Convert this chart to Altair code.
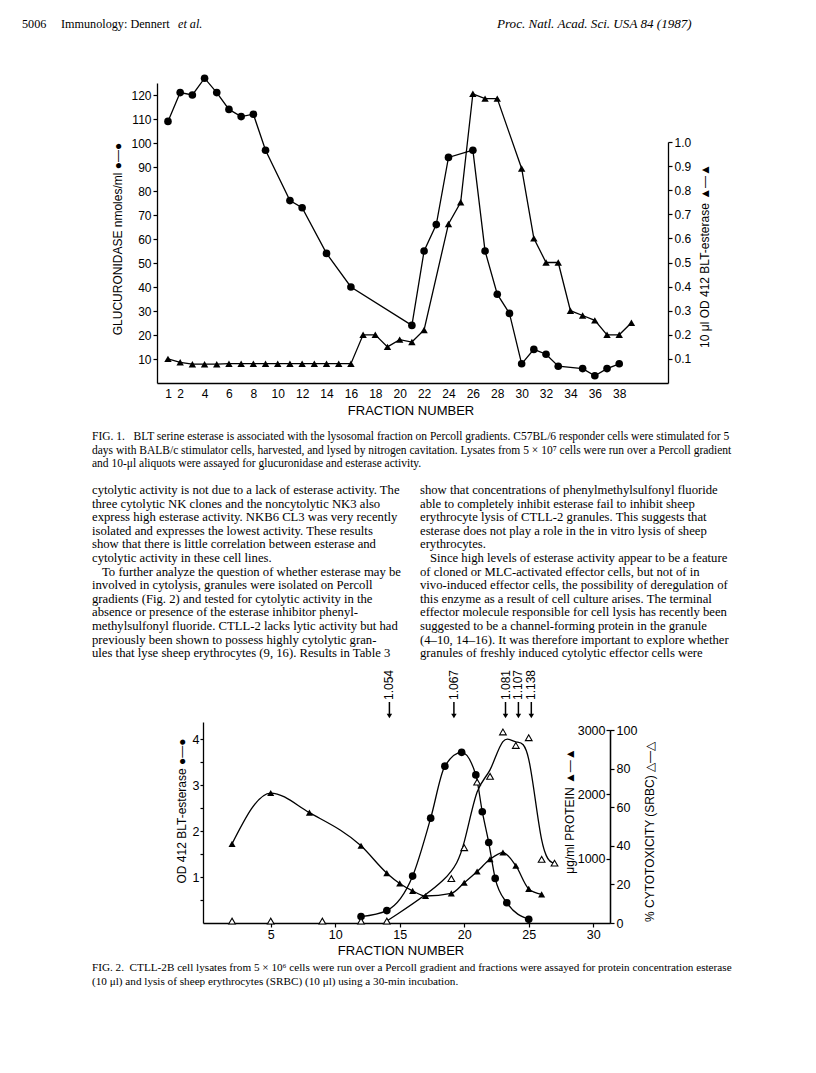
import altair as alt
import pandas as pd

# ---------------- data ----------------
# Figure 1: glucuronidase (filled circles, left axis) and esterase (filled triangles, right axis)
fig1_glu_frac = [1, 2, 3, 4, 5, 6, 7, 8, 9, 11, 12, 14, 16, 21, 22, 23, 24, 26, 27, 28, 29,
                 30, 31, 32, 33, 35, 36, 37, 38]
fig1_glu_val = [109, 121, 120, 127, 121, 114, 111, 112, 97, 76, 73, 54, 40, 24, 55, 66, 94,
                97, 55, 37, 29, 8, 14, 12, 7, 6, 3, 6, 8]
fig1_est_frac = [1, 2, 3, 4, 5, 6, 7, 8, 9, 10, 11, 12, 13, 14, 15, 16, 17, 18, 19, 20, 21, 22,
                 24, 25, 26, 27, 28, 30, 31, 32, 33, 34, 35, 36, 37, 38, 39]
fig1_est_val = [0.10, 0.086, 0.078, 0.078, 0.078, 0.08, 0.08, 0.08, 0.08, 0.08, 0.08, 0.08,
                0.08, 0.08, 0.08, 0.08, 0.20, 0.20, 0.15, 0.18, 0.17, 0.22,
                0.66, 0.75, 1.20, 1.18, 1.18, 0.89, 0.60, 0.50, 0.50, 0.30, 0.28, 0.26,
                0.20, 0.20, 0.25]
fig1_x_ticks = [1, 2, 4, 6, 8, 10, 12, 14, 16, 18, 20, 22, 24, 26, 28, 30, 32, 34, 36, 38]
fig1_left_ticks = [10, 20, 30, 40, 50, 60, 70, 80, 90, 100, 110, 120]
fig1_right_ticks = [0.1, 0.2, 0.3, 0.4, 0.5, 0.6, 0.7, 0.8, 0.9, 1.0]

# Figure 2: esterase (filled circles), protein (filled triangles), cytotoxicity (open triangles)
fig2_est_frac = [12, 14, 16, 17.4, 18.5, 19.8, 20.9, 21.4, 21.9, 22.4, 23.3, 25]
fig2_est_val = [0.14, 0.27, 1.02, 2.28, 3.41, 3.71, 3.22, 2.42, 1.75, 0.97, 0.44, 0.08]
fig2_prot_frac = [2, 5, 8, 12, 14, 15, 16, 17, 19, 20, 21, 22, 23, 24, 25, 26]
fig2_prot_val = [1230, 2020, 1715, 1200, 775, 615, 500, 420, 460, 625, 800, 990, 1095, 890,
                 530, 445]
fig2_cyto_frac = [2, 5, 9, 12, 14, 19, 20, 21, 22, 23, 24, 25, 26, 27]
fig2_cyto_val = [1, 1, 1, 1, 1, 23, 39, 73, 76, 99, 92, 96, 33, 31]
fig2_density_frac = [14.2, 19.2, 23.2, 24.2, 25.2]
fig2_density_label = ["1.054", "1.067", "1.081", "1.107", "1.138"]
fig2_x_ticks = [5, 10, 15, 20, 25, 30]
fig2_left_ticks = [0.5, 1, 1.5, 2, 2.5, 3, 3.5, 4]
fig2_prot_ticks = [1000, 2000, 3000]
fig2_cyto_ticks = [0, 20, 40, 60, 80, 100]

# ---------------- page text ----------------
header_page = "5006"
header_journal = "Immunology: Dennert"
header_etal = "et al."
header_right = "Proc. Natl. Acad. Sci. USA 84 (1987)"

fig1_caption = [
    "FIG. 1.\u00a0\u00a0\u00a0BLT serine esterase is associated with the lysosomal fraction on Percoll gradients. C57BL/6 responder cells were stimulated for 5",
    "days with BALB/c stimulator cells, harvested, and lysed by nitrogen cavitation. Lysates from 5 \u00d7 10\u2077 cells were run over a Percoll gradient",
    "and 10-\u03bcl aliquots were assayed for glucuronidase and esterase activity.",
]
body_left = [
    "cytolytic activity is not due to a lack of esterase activity. The",
    "three cytolytic NK clones and the noncytolytic NK3 also",
    "express high esterase activity. NKB6 CL3 was very recently",
    "isolated and expresses the lowest activity. These results",
    "show that there is little correlation between esterase and",
    "cytolytic activity in these cell lines.",
    "To further analyze the question of whether esterase may be",
    "involved in cytolysis, granules were isolated on Percoll",
    "gradients (Fig. 2) and tested for cytolytic activity in the",
    "absence or presence of the esterase inhibitor phenyl-",
    "methylsulfonyl fluoride. CTLL-2 lacks lytic activity but had",
    "previously been shown to possess highly cytolytic gran-",
    "ules that lyse sheep erythrocytes (9, 16). Results in Table 3",
]
body_right = [
    "show that concentrations of phenylmethylsulfonyl fluoride",
    "able to completely inhibit esterase fail to inhibit sheep",
    "erythrocyte lysis of CTLL-2 granules. This suggests that",
    "esterase does not play a role in the in vitro lysis of sheep",
    "erythrocytes.",
    "Since high levels of esterase activity appear to be a feature",
    "of cloned or MLC-activated effector cells, but not of in",
    "vivo-induced effector cells, the possibility of deregulation of",
    "this enzyme as a result of cell culture arises. The terminal",
    "effector molecule responsible for cell lysis has recently been",
    "suggested to be a channel-forming protein in the granule",
    "(4\u201310, 14\u201316). It was therefore important to explore whether",
    "granules of freshly induced cytolytic effector cells were",
]
fig2_caption = [
    "FIG. 2.\u00a0\u00a0CTLL-2B cell lysates from 5 \u00d7 10\u2076 cells were run over a Percoll gradient and fractions were assayed for protein concentration esterase",
    "(10 \u03bcl) and lysis of sheep erythrocytes (SRBC) (10 \u03bcl) using a 30-min incubation.",
]
fig1_left_title = "GLUCURONIDASE  nmoles/ml \u25cf\u2014\u25cf"
fig1_right_title = "10 \u03bcl OD 412 BLT-esterase \u25b2\u2014\u25b2"
fig1_x_title = "FRACTION  NUMBER"
fig2_left_title = "OD 412 BLT-esterase \u25cf\u2014\u25cf"
fig2_prot_title = "\u03bcg/ml PROTEIN \u25b2\u2014\u25b2"
fig2_cyto_title = "% CYTOTOXICITY (SRBC) \u25b3\u2014\u25b3"
fig2_x_title = "FRACTION NUMBER"

# ---------------- layout (canvas pixels) ----------------
W, H = 800, 1057
F1_X0, F1_X1, F1_YB, F1_YT, F1_YRT = 149, 660, 375, 75, 134
F2_X0, F2_X1, F2_YB, F2_YT, F2_YRT = 195, 602, 915, 714, 722
SERIF = "Liberation Serif"
SANS = "Liberation Sans"
BLACK = "black"


def text_layer(df, font, size, style="normal", angle=0, align="left", weight="normal"):
    return alt.Chart(df).mark_text(
        font=font, fontSize=size, fontStyle=style, angle=angle, align=align,
        baseline="middle", color=BLACK, fontWeight=weight
    ).encode(
        x=alt.X("x:Q", scale=None, axis=None),
        y=alt.Y("y:Q", scale=None, axis=None),
        text="t:N",
    )


def lines_df(lines, x0, y0, dy, indent_idx=(), indent=10):
    return pd.DataFrame({
        "t": lines,
        "x": [x0 + (indent if i in indent_idx else 0) for i in range(len(lines))],
        "y": [y0 + i * dy for i in range(len(lines))],
    })


# ---------------- Figure 1 ----------------
f1x = alt.Scale(domain=[0.1, 42], range=[F1_X0, F1_X1], nice=False, zero=False)
f1yl = alt.Scale(domain=[0, 125], range=[F1_YB, F1_YT], nice=False, zero=False)
f1yr = alt.Scale(domain=[0, 1.0], range=[F1_YB, F1_YRT], nice=False, zero=False)

df_glu = pd.DataFrame({"frac": fig1_glu_frac, "val": fig1_glu_val})
df_est1 = pd.DataFrame({"frac": fig1_est_frac, "val": fig1_est_val})

f1_glu = alt.Chart(df_glu).mark_line(
    color=BLACK, strokeWidth=1.3,
    point=alt.OverlayMarkDef(shape="circle", filled=True, size=58, color=BLACK, opacity=1),
).encode(
    x=alt.X("frac:Q", scale=f1x, axis=alt.Axis(
        orient="bottom", offset=F1_YB - H, values=fig1_x_ticks, ticks=False,
        labelPadding=5, labelFontSize=12)),
    y=alt.Y("val:Q", scale=f1yl, axis=alt.Axis(
        orient="left", offset=-F1_X0, values=fig1_left_ticks, tickSize=4,
        labelPadding=2, labelFontSize=12)),
)

f1_est = alt.Chart(df_est1).mark_line(
    color=BLACK, strokeWidth=1.3,
    point=alt.OverlayMarkDef(shape="triangle-up", filled=True, size=55, color=BLACK, opacity=1),
).encode(
    x=alt.X("frac:Q", scale=f1x, axis=None),
    y=alt.Y("val:Q", scale=f1yr, axis=alt.Axis(
        orient="right", offset=F1_X1 - W, values=fig1_right_ticks, format=".1f",
        tickSize=4, labelPadding=2, labelFontSize=12)),
)

# ---------------- Figure 2 ----------------
f2x = alt.Scale(domain=[-0.25, 31.3], range=[F2_X0, F2_X1], nice=False, zero=False)
f2yl = alt.Scale(domain=[0, 4.37], range=[F2_YB, F2_YT], nice=False, zero=False)
f2yp = alt.Scale(domain=[0, 3000], range=[F2_YB, F2_YRT], nice=False, zero=False)
f2yc = alt.Scale(domain=[0, 100], range=[F2_YB, F2_YRT], nice=False, zero=False)

df_est2 = pd.DataFrame({"frac": fig2_est_frac, "val": fig2_est_val})
df_prot = pd.DataFrame({"frac": fig2_prot_frac, "val": fig2_prot_val})
df_cyto = pd.DataFrame({"frac": fig2_cyto_frac, "val": fig2_cyto_val})
df_dens = pd.DataFrame({"frac": fig2_density_frac, "label": fig2_density_label})

f2_est = alt.Chart(df_est2).mark_line(
    color=BLACK, strokeWidth=1.3, interpolate="monotone",
    point=alt.OverlayMarkDef(shape="circle", filled=True, size=58, color=BLACK, opacity=1),
).encode(
    x=alt.X("frac:Q", scale=f2x, axis=alt.Axis(
        orient="bottom", offset=F2_YB - H, values=fig2_x_ticks, tickSize=4,
        labelPadding=1, labelFontSize=12.5)),
    y=alt.Y("val:Q", scale=f2yl, axis=alt.Axis(
        orient="left", offset=-F2_X0, values=fig2_left_ticks, tickSize=3,
        labelPadding=1, labelFontSize=12.5,
        labelExpr="datum.value % 1 === 0 ? format(datum.value, 'd') : ''")),
)

f2_prot = alt.Chart(df_prot).mark_line(
    color=BLACK, strokeWidth=1.3, interpolate="monotone",
    point=alt.OverlayMarkDef(shape="triangle-up", filled=True, size=50, color=BLACK, opacity=1),
).encode(
    x=alt.X("frac:Q", scale=f2x, axis=None),
    y=alt.Y("val:Q", scale=f2yp, axis=alt.Axis(
        orient="left", offset=-F2_X1, values=fig2_prot_ticks, format="d", tickSize=4,
        labelPadding=1, labelFontSize=12.5)),
)

f2_cyto_line = alt.Chart(df_cyto).transform_filter("datum.frac >= 14").mark_line(
    color=BLACK, strokeWidth=1.3, interpolate="basis",
).encode(
    x=alt.X("frac:Q", scale=f2x, axis=None),
    y=alt.Y("val:Q", scale=f2yc, axis=alt.Axis(
        orient="right", offset=F2_X1 - W, values=fig2_cyto_ticks, format="d", tickSize=4,
        labelPadding=2, labelFontSize=12.5)),
)
f2_cyto_pts = alt.Chart(df_cyto).mark_point(
    shape="triangle-up", filled=True, fill="white", stroke=BLACK, strokeWidth=1.1,
    size=45, opacity=1,
).encode(
    x=alt.X("frac:Q", scale=f2x, axis=None),
    y=alt.Y("val:Q", scale=f2yc, axis=None),
)

f2_arrow_shaft = alt.Chart(df_dens).mark_rule(color=BLACK, strokeWidth=1.5).encode(
    x=alt.X("frac:Q", scale=f2x, axis=None),
    y=alt.value(694), y2=alt.value(706),
)
f2_arrow_head = alt.Chart(df_dens).mark_point(
    shape="triangle-down", filled=True, color=BLACK, size=30, opacity=1
).encode(
    x=alt.X("frac:Q", scale=f2x, axis=None),
    y=alt.value(708),
)
f2_arrow_text = alt.Chart(df_dens).mark_text(
    font=SANS, fontSize=12, angle=270, align="center", baseline="middle", color=BLACK
).encode(
    x=alt.X("frac:Q", scale=f2x, axis=None),
    y=alt.value(677),
    text="label:N",
)

# ---------------- text layers ----------------
t_header = text_layer(pd.DataFrame({"t": [header_page, header_journal],
                                    "x": [14, 53], "y": [16, 16]}), SERIF, 12.2)
t_header_it = text_layer(pd.DataFrame({"t": [header_etal], "x": [170], "y": [16]}),
                         SERIF, 12.2, style="italic")
t_header_r = text_layer(pd.DataFrame({"t": [header_right], "x": [489], "y": [16]}),
                        SERIF, 13.1, style="italic")
t_cap1 = text_layer(lines_df(fig1_caption, 84, 429, 13.6), SERIF, 11.5)
t_body_l = text_layer(lines_df(body_left, 84, 482, 13.6, indent_idx=(6,)), SERIF, 12.7)
t_body_r = text_layer(lines_df(body_right, 412, 482, 13.6, indent_idx=(5,)), SERIF, 12.7)
t_cap2 = text_layer(lines_df(fig2_caption, 84, 960, 13.6), SERIF, 11.2)

t_fig_rot = text_layer(pd.DataFrame({
    "t": [fig1_left_title, fig1_right_title, fig2_left_title, fig2_prot_title, fig2_cyto_title],
    "x": [110, 697, 174, 562, 642],
    "y": [231, 248, 803, 803, 824],
}), SANS, 12, angle=270, align="center")
t_fig_x = text_layer(pd.DataFrame({
    "t": [fig1_x_title, fig2_x_title],
    "x": [403, 393],
    "y": [403, 943],
}), SANS, 13, align="center")

chart = alt.layer(
    f1_glu, f1_est,
    f2_est, f2_prot, f2_cyto_line, f2_cyto_pts,
    f2_arrow_shaft, f2_arrow_head, f2_arrow_text,
    t_header, t_header_it, t_header_r, t_cap1, t_body_l, t_body_r, t_cap2, t_fig_rot, t_fig_x,
).resolve_scale(
    x="independent", y="independent"
).properties(
    width=W, height=H, padding=0,
    autosize=alt.AutoSizeParams(type="none"),
    background="white",
).configure_view(
    stroke="transparent"
).configure_axis(
    grid=False, title=None, domainColor=BLACK, tickColor=BLACK, labelColor=BLACK,
    labelFont=SANS, domainWidth=1.3, tickWidth=1.2, labelFlush=False, labelOverlap=False,
)

chart.save("out.html", embed_options={"renderer": "svg", "actions": False})
